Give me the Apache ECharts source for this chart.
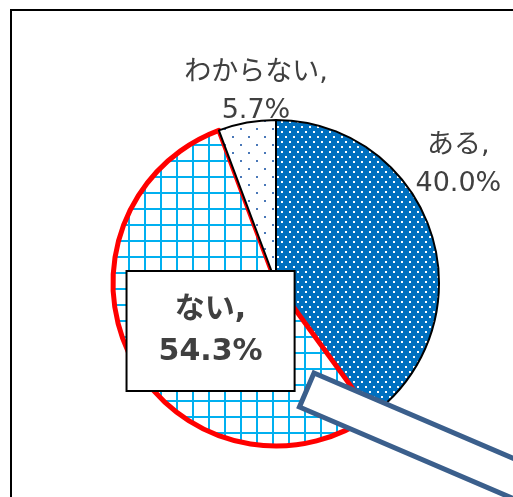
<!DOCTYPE html>
<html>
<head>
<meta charset="utf-8">
<script src="https://cdn.jsdelivr.net/npm/echarts@6/dist/echarts.min.js"></script>
<style>
  html, body { margin: 0; padding: 0; background: #fff; }
  #chart { width: 513px; height: 497px; }
</style>
</head>
<body>
<div id="chart"></div>
<script>
var categories = ['ある', 'ない', 'わからない'];
var values = [40.0, 54.3, 5.7];

function makePattern(w, h, bg, draw) {
    var c = document.createElement('canvas');
    c.width = w;
    c.height = h;
    var ctx = c.getContext('2d');
    ctx.fillStyle = bg;
    ctx.fillRect(0, 0, w, h);
    draw(ctx);
    return { image: c, repeat: 'repeat' };
}

// dark blue with white dots
var dotsBlue = makePattern(8, 10, '#0070c0', function (ctx) {
    ctx.fillStyle = '#ffffff';
    ctx.fillRect(1, 1, 2, 2);
    ctx.fillRect(5, 6, 2, 2);
});
// light blue grid
var gridBlue = makePattern(16, 16, '#ffffff', function (ctx) {
    ctx.fillStyle = '#00b0f0';
    ctx.fillRect(0, 0, 2, 16);
    ctx.fillRect(0, 0, 16, 2);
});
// sparse dots on white
var dotsSparse = makePattern(16, 16, '#ffffff', function (ctx) {
    ctx.fillStyle = '#4a78b8';
    ctx.fillRect(0, 0, 2, 2);
    ctx.fillRect(8, 8, 2, 2);
});

var chart = echarts.init(document.getElementById('chart'), null, { renderer: 'canvas' });

var sliceStyle = {
    'ある': { color: dotsBlue, borderColor: '#000', borderWidth: 2 },
    'ない': { color: gridBlue, borderColor: '#ff0000', borderWidth: 5 },
    'わからない': { color: dotsSparse, borderColor: '#000', borderWidth: 2 }
};
var sliceLabel = {
    'ある': { offset: [102, -92] },
    'ない': {
        offset: [9, 8],
        fontSize: 30,
        fontWeight: 'bold',
        lineHeight: 42,
        backgroundColor: '#fff',
        borderColor: '#000',
        borderWidth: 2,
        padding: [18, 31, 16, 31]
    },
    'わからない': { offset: [-5, -108] }
};

var data = categories.map(function (name, i) {
    return {
        name: name,
        value: values[i],
        itemStyle: sliceStyle[name],
        label: sliceLabel[name]
    };
});

var option = {
    animation: false,
    graphic: [
        {
            type: 'rect',
            shape: { x: 11, y: 10, width: 600, height: 600 },
            style: { fill: 'none', stroke: '#000', lineWidth: 2 },
            z: 0
        },
        {
            type: 'rect',
            x: 314,
            y: 373,
            rotation: -23.2 * Math.PI / 180,
            shape: { x: 0, y: 0, width: 320, height: 37 },
            style: { fill: '#fff', stroke: '#3b5f8c', lineWidth: 5 },
            z: 100
        }
    ],
    series: [{
        type: 'pie',
        center: [276, 283],
        radius: 163,
        startAngle: 90,
        clockwise: true,
        silent: true,
        z: 2,
        label: {
            show: true,
            position: 'inside',
            color: '#404040',
            fontFamily: '"DejaVu Sans", "Noto Sans CJK JP"',
            fontSize: 27,
            lineHeight: 38,
            formatter: function (p) {
                return p.name + ',\n' + p.value.toFixed(1) + '%';
            }
        },
        labelLine: { show: false },
        emphasis: { disabled: true },
        data: data
    }]
};

chart.setOption(option);
</script>
</body>
</html>
